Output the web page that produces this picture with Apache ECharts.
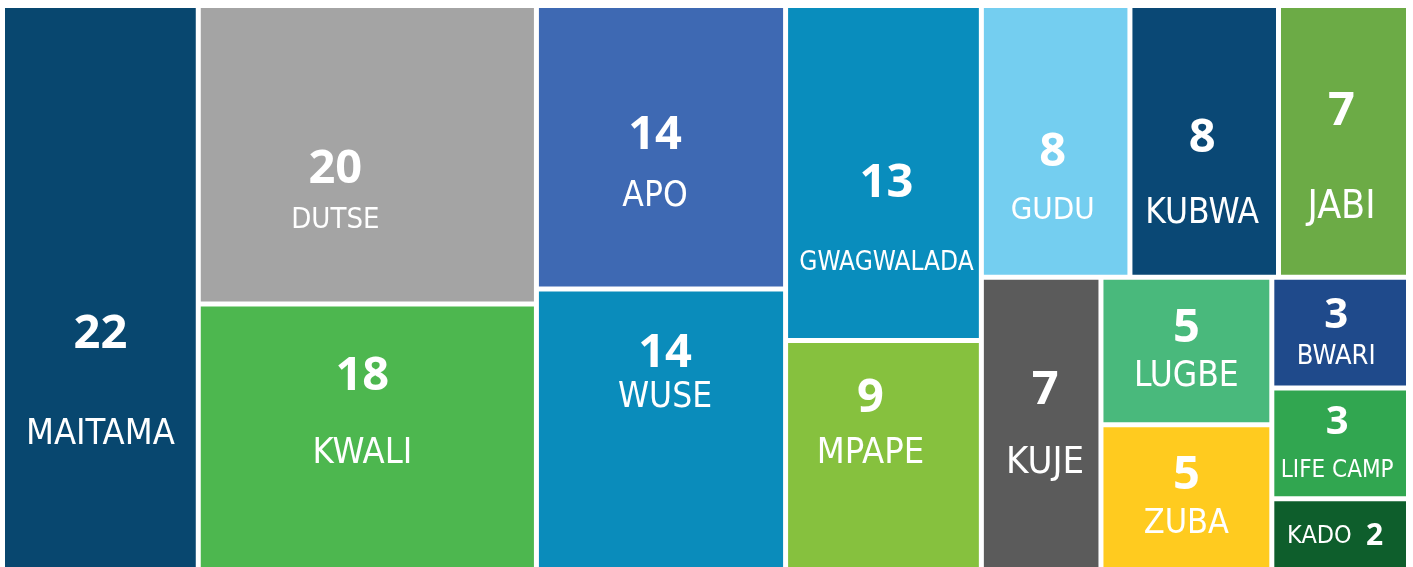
<!DOCTYPE html>
<html>
<head>
<meta charset="utf-8">
<script src="https://cdn.jsdelivr.net/npm/echarts@6/dist/echarts.min.js"></script>
<style>
  html, body { margin: 0; padding: 0; background: #ffffff; }
  #chart { width: 1413px; height: 567px; }
</style>
</head>
<body>
<div id="chart"></div>
<script>
// ---- data ----
const names  = ['MAITAMA','DUTSE','KWALI','APO','WUSE','GWAGWALADA','MPAPE','GUDU','KUBWA','JABI','KUJE','LUGBE','ZUBA','BWARI','LIFE CAMP','KADO'];
const values = [22, 20, 18, 14, 14, 13, 9, 8, 8, 7, 7, 5, 5, 3, 3, 2];
// grouping of the treemap (indices into names/values)
const groups = [
  0,
  [1, 2],
  [3, 4],
  [5, 6],
  [[7, 8, 9], [10, [11, 12], [13, 14, 15]]]
];

// ---- styles (kept apart from the data) ----
const colors = {
  'MAITAMA': '#08476F', 'DUTSE': '#A4A4A4', 'KWALI': '#4DB74F', 'APO': '#3E69B3',
  'WUSE': '#0A8CBB', 'GWAGWALADA': '#098DBD', 'MPAPE': '#86C13E', 'GUDU': '#74CEF0',
  'KUBWA': '#0A4875', 'JABI': '#6CAB46', 'KUJE': '#5B5B5B', 'LUGBE': '#49B97C',
  'ZUBA': '#FFCB1F', 'BWARI': '#1F4A8B', 'LIFE CAMP': '#31A650', 'KADO': '#0E5E2C'
};
// label styling: [valueFontSize, nameFontSize, value centre below cell top, name centre below cell top, horizontal shift]
const labelStyle = {
  'MAITAMA':    [47, 36, 326.5, 427,   0],
  'DUTSE':      [47, 29, 162,   212.5, -32],
  'KWALI':      [47, 36, 70.5,  147,   -5],
  'APO':        [47, 35, 127.5, 189,   -6],
  'WUSE':       [47, 35, 62.5,  106.5, 4],
  'GWAGWALADA': [47, 26, 175.5, 255.5, 3],
  'MPAPE':      [47, 36, 55.5,  110.5, -13],
  'GUDU':       [47, 31, 144.5, 203,   -3],
  'KUBWA':      [47, 35, 130.5, 206,   -2],
  'JABI':       [47, 39, 103.5, 199.5, -2],
  'KUJE':       [47, 38, 111,   183.5, 4],
  'LUGBE':      [47, 35, 48.5,  97,    0],
  'ZUBA':       [47, 34, 48,    97,    0],
  'BWARI':      [42, 27, 36,    77.5,  -4],
  'LIFE CAMP':  [40, 24, 32,    80,    -3],
  'KADO':       [30, 25, 35.5,  35.5,  -5]
};

const numFont = "'Open Sans', 'DejaVu Sans', sans-serif";
const nameFont = "'DejaVu Sans Condensed', 'Liberation Sans Narrow', 'Roboto', sans-serif";

function leaf(i) {
  const n = names[i];
  const s = labelStyle[n];
  const vSize = s[0], nSize = s[1];
  const single = (n === 'KADO');
  const lv = vSize;
  const dy = s[2] - lv / 2;
  const ln = single ? lv : Math.max(nSize, 2 * (s[3] - dy - lv));
  return {
    name: n,
    value: values[i],
    itemStyle: { color: colors[n] },
    label: {
      offset: [s[4], dy],
      formatter: single ? '{n|{b}  }{v|{c}}' : '{v|{c}}\n{n|{b}}',
      rich: {
        v: { fontFamily: numFont, fontWeight: 'bold', fontSize: vSize, color: '#fff', lineHeight: lv },
        n: { fontFamily: nameFont, fontWeight: 'normal', fontSize: nSize, color: '#fff', lineHeight: ln }
      }
    }
  };
}
function build(g) {
  if (typeof g === 'number') return leaf(g);
  return { name: '', children: g.map(build) };
}
const tree = groups.map(build);

const chart = echarts.init(document.getElementById('chart'), null, { renderer: 'canvas' });
chart.setOption({
  backgroundColor: '#ffffff',
  animation: false,
  series: [{
    type: 'treemap',
    left: 5, top: 8, width: 1401, height: 562,
    roam: false,
    nodeClick: false,
    breadcrumb: { show: false },
    sort: false,
    squareRatio: 0.001,
    visibleMin: 0,
    itemStyle: { borderWidth: 0, gapWidth: 5, borderColor: '#ffffff' },
    upperLabel: { show: false },
    label: {
      show: true,
      position: 'inside',
      align: 'center',
      verticalAlign: 'middle',
      overflow: 'none',
      padding: 0,
      color: '#fff'
    },
    emphasis: { disabled: true },
    data: tree
  }]
});
</script>
</body>
</html>
